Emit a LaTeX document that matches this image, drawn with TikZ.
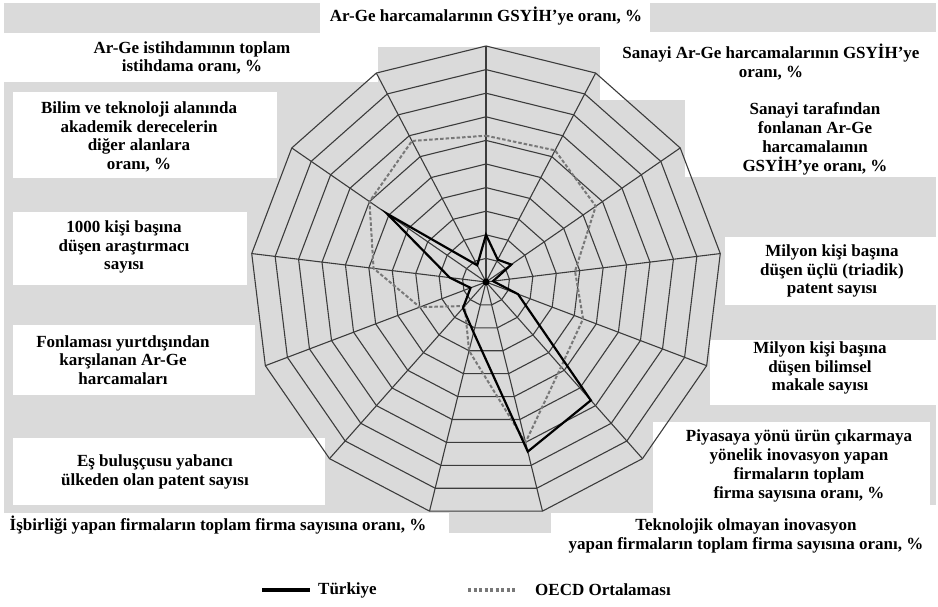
\documentclass[tikz,border=0pt]{standalone}
\usepackage{fontspec}
\setmainfont{Liberation Serif}
\definecolor{bandgray}{RGB}{218,218,218}
\definecolor{gridc}{RGB}{60,60,60}
\definecolor{oecdc}{RGB}{120,120,120}
\begin{document}
\begin{tikzpicture}[x=1pt,y=-1pt,
  lbl/.style={font=\bfseries\fontsize{17}{18.8}\selectfont, align=center, inner sep=0pt},
  gridline/.style={draw=gridc, line width=1.1pt, line join=round},
  tline/.style={draw=black, line width=2.2pt, line join=miter},
  oline/.style={draw=oecdc, line width=2pt, dash pattern=on 3.5pt off 2pt},
  graybox/.style={fill=bandgray, draw=none},
  whitebox/.style={fill=white, draw=none}]
\useasboundingbox (0,0) rectangle (938,606);
\fill[white] (0,0) rectangle (938,606);
% gray background bands
\fill[graybox] (4,3) rectangle (320,33);
\fill[graybox] (650,3) rectangle (936,32);
\fill[graybox] (4,82) rectangle (936,513);
\fill[graybox] (378,47) rectangle (600,82);
\fill[graybox] (449,513) rectangle (551,533);
% white label boxes
\fill[whitebox] (600,82) rectangle (938,100);
\fill[whitebox] (685,100) rectangle (938,177);
\fill[whitebox] (725,237) rectangle (938,305);
\fill[whitebox] (710,340) rectangle (938,405);
\fill[whitebox] (653,422) rectangle (930,513);
\fill[whitebox] (13,92) rectangle (277,178);
\fill[whitebox] (13,212) rectangle (247,285);
\fill[whitebox] (13,325) rectangle (255,395);
\fill[whitebox] (13,438) rectangle (325,505);
\fill[whitebox] (657,505) rectangle (938,513);
% radar grid
\coordinate (C) at (486,282);
\foreach \k in {0,...,12}{
  \coordinate (A\k) at ({486+236*cos(90-\k*360/13)},{282-236*sin(90-\k*360/13)});
}
\foreach \i in {1,...,10}{
  \draw[gridline] ({486+23.6*\i*cos(90)},{282-23.6*\i*sin(90)})
    \foreach \k in {1,...,12}{ -- ({486+23.6*\i*cos(90-\k*360/13)},{282-23.6*\i*sin(90-\k*360/13)}) } -- cycle;
}
\foreach \k in {0,...,12}{ \draw[gridline] (C) -- (A\k); }
% data
\foreach \k/\v in {0/6.2,1/6.3,2/5.65,3/3.8,4/4.4,5/4.8,6/7.0,7/3.0,8/1.36,9/3.0,10/4.8,11/6.0,12/6.75}{
  \coordinate (O\k) at ({486+23.6*\v*cos(90-\k*360/13)},{282-23.6*\v*sin(90-\k*360/13)});
}
\foreach \k/\v in {0/2.0,1/1.07,2/1.3,3/0.3,4/1.45,5/6.7,6/7.4,7/2.2,8/1.47,9/0.7,10/1.55,11/5.1,12/0.8}{
  \coordinate (T\k) at ({486+23.6*\v*cos(90-\k*360/13)},{282-23.6*\v*sin(90-\k*360/13)});
}
\draw[oline] (O0) -- (O1) -- (O2) -- (O3) -- (O4) -- (O5) -- (O6) -- (O7) -- (O8) -- (O9) -- (O10) -- (O11) -- (O12) -- cycle;
\draw[tline] (T0) -- (T1) -- (T2) -- (T3) -- (T4) -- (T5) -- (T6) -- (T7) -- (T8) -- (T9) -- (T10) -- (T11) -- (T12) -- cycle;
\fill[black] (C) circle (3.5pt);
% labels
\node[lbl] (L0) at (486,16) {Ar-Ge harcamalarının GSYİH’ye oranı, \%};
\node[lbl] (L1) at (771,62) {Sanayi Ar-Ge harcamalarının GSYİH’ye\\oranı, \%};
\node[lbl] (L2) at (815,139) {Sanayi tarafından\\fonlanan Ar-Ge\\harcamalaının\\GSYİH’ye oranı, \%};
\node[lbl] (L3) at (832,271) {Milyon kişi başına\\düşen üçlü (triadik)\\patent sayısı};
\node[lbl] (L4) at (820,368) {Milyon kişi başına\\düşen bilimsel\\makale sayısı};
\node[lbl] (L5) at (799,466) {Piyasaya yönü ürün çıkarmaya\\yönelik inovasyon yapan\\firmaların toplam\\firma sayısına oranı, \%};
\node[lbl] (L6) at (746,536) {Teknolojik olmayan inovasyon\\yapan firmaların toplam firma sayısına oranı, \%};
\node[lbl] (L7) at (218,525) {İşbirliği yapan firmaların toplam firma sayısına oranı, \%};
\node[lbl] (L8) at (155,472) {Eş buluşçusu yabancı\\ülkeden olan patent sayısı};
\node[lbl] (L9) at (123,360) {Fonlaması yurtdışından\\karşılanan Ar-Ge\\harcamaları};
\node[lbl] (L10) at (124,247) {1000 kişi başına\\düşen araştırmacı\\sayısı};
\node[lbl] (L11) at (139,137) {Bilim ve teknoloji alanında\\akademik derecelerin\\diğer alanlara\\oranı, \%};
\node[lbl] (L12) at (192,58) {Ar-Ge istihdamının toplam\\istihdama oranı, \%};
% legend
\coordinate (lt1) at (262,590);
\coordinate (lt2) at (310,590);
\coordinate (lo1) at (468,590);
\coordinate (lo2) at (515,590);
\draw[draw=black, line width=3.5pt] (lt1) -- (lt2);
\draw[draw=oecdc, line width=3.5pt, dash pattern=on 3pt off 2.5pt] (lo1) -- (lo2);
\node[lbl, anchor=west] (leg1) at (318,590) {Türkiye};
\node[lbl, anchor=west] (leg2) at (535,590) {OECD Ortalaması};
\end{tikzpicture}
\end{document}
